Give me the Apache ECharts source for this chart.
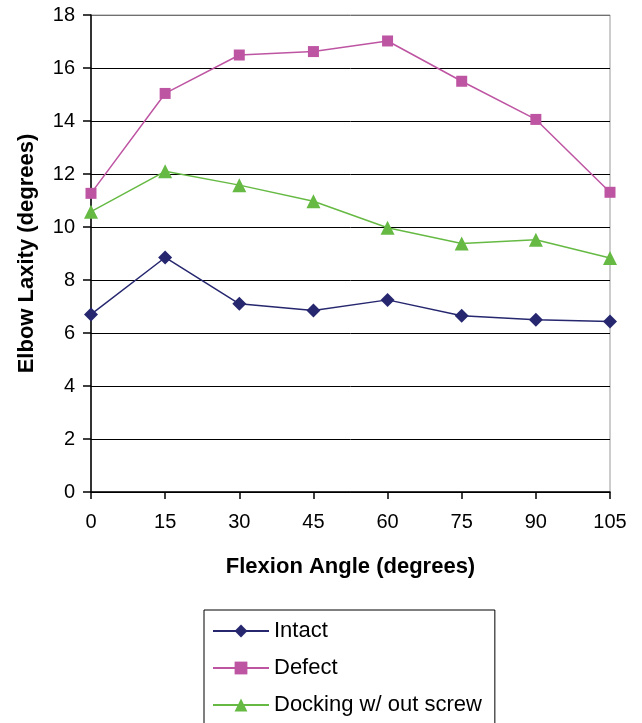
<!DOCTYPE html>
<html>
<head>
<meta charset="utf-8">
<script src="https://cdn.jsdelivr.net/npm/echarts@6/dist/echarts.min.js"></script>
<style>html,body{margin:0;padding:0;background:#fff}#c{width:642px;height:723px}</style>
</head>
<body>
<div id="c"></div>
<script>
const angles = [0, 15, 30, 45, 60, 75, 90, 105];
const intact = [6.7, 8.85, 7.1, 6.85, 7.25, 6.65, 6.5, 6.43];
const defect = [11.27, 15.04, 16.49, 16.62, 17.02, 15.5, 14.06, 11.31];
const docking = [10.58, 12.1, 11.58, 10.97, 9.97, 9.38, 9.52, 8.83];
const yTicks = [0, 2, 4, 6, 8, 10, 12, 14, 16, 18];

const font = 'Liberation Sans, Arial, Helvetica, sans-serif';
const pairs = v => angles.map((a, i) => [a, v[i]]);
const chart = echarts.init(document.getElementById('c'), null, {renderer: 'canvas'});
const gridColors = yTicks.map((t, i) => i === yTicks.length - 1 ? '#707070' : '#000');

chart.setOption({
  animation: false,
  backgroundColor: '#fff',
  textStyle: {fontFamily: font},
  grid: {left: 91, right: 32, top: 15, bottom: 231, show: true, borderColor: '#999', borderWidth: 1},
  xAxis: {
    type: 'value', min: 0, max: 105, interval: 15,
    name: 'Flexion Angle (degrees)', nameLocation: 'middle', nameGap: 64,
    nameTextStyle: {fontSize: 22, fontWeight: 'bold', color: '#000', fontFamily: font},
    axisLine: {lineStyle: {color: '#000', width: 1.5}},
    axisTick: {show: true, length: 7, lineStyle: {color: '#000', width: 1.5}},
    axisLabel: {fontSize: 20, color: '#000', margin: 20, fontFamily: font},
    splitLine: {show: false}
  },
  yAxis: {
    type: 'value', min: 0, max: 18, interval: 2,
    name: 'Elbow Laxity (degrees)', nameLocation: 'middle', nameGap: 53, nameRotate: 90,
    nameTextStyle: {fontSize: 22, fontWeight: 'bold', color: '#000', fontFamily: font},
    axisLine: {show: true, lineStyle: {color: '#000', width: 1.5}},
    axisTick: {show: true, length: 8, lineStyle: {color: '#000', width: 1.5}},
    axisLabel: {fontSize: 20, color: '#000', margin: 16, fontFamily: font},
    splitLine: {show: true, lineStyle: {color: gridColors, width: 1}}
  },
  legend: {
    orient: 'vertical', left: 204, top: 610, height: 200,
    borderColor: '#000', borderWidth: 1,
    padding: [10, 13, 30, 8],
    itemGap: 15, itemWidth: 56, itemHeight: 16,
    textStyle: {fontSize: 22, color: '#000', fontFamily: font},
    data: ['Intact', 'Defect', 'Docking w/ out screw']
  },
  series: [
    {name: 'Intact', type: 'line', data: pairs(intact), symbol: 'diamond', symbolSize: 14,
     itemStyle: {color: '#26276F'}, lineStyle: {color: '#26276F', width: 1.5}},
    {name: 'Defect', type: 'line', data: pairs(defect), symbol: 'rect', symbolSize: 11,
     itemStyle: {color: '#BE55A3'}, lineStyle: {color: '#BE55A3', width: 1.5}},
    {name: 'Docking w/ out screw', type: 'line', data: pairs(docking), symbol: 'triangle', symbolSize: 14,
     itemStyle: {color: '#66BA44'}, lineStyle: {color: '#66BA44', width: 1.5}}
  ]
});
</script>
</body>
</html>
